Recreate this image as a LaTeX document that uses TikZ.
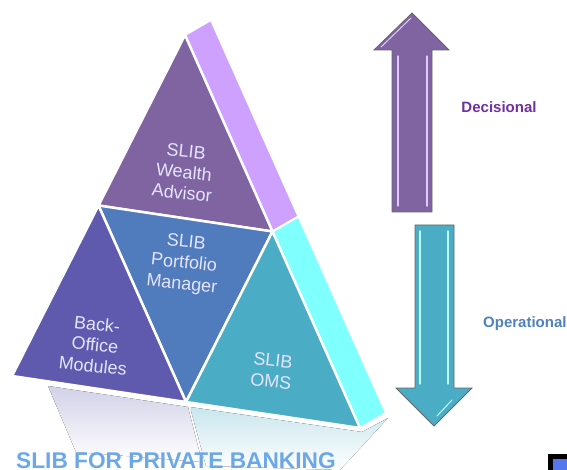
\documentclass[tikz,border=0pt]{standalone}
\usepackage{fontspec}
\setmainfont{Liberation Sans}
\usepackage{xcolor}
\usepackage{tikz}
\usetikzlibrary{calc, positioning}

\definecolor{wealthpurple}{RGB}{128,100,162}
\definecolor{portfblue}{RGB}{80,123,188}
\definecolor{backoffice}{RGB}{95,90,173}
\definecolor{omsteal}{RGB}{75,172,198}
\definecolor{lilacside}{RGB}{206,160,255}
\definecolor{cyanside}{RGB}{128,255,255}
\definecolor{decpurple}{RGB}{112,48,160}
\definecolor{opblue}{RGB}{79,129,189}
\definecolor{titleblue}{RGB}{108,168,232}
\definecolor{cornerblue}{RGB}{85,119,238}

\begin{document}
\begin{tikzpicture}[x=1pt, y=-1pt,
 facet/.style={draw=white, line width=2.5pt, line join=round},
 sideface/.style={facet, line width=2pt},
 facettext/.style={text=white!90!blue, align=center, rotate=-6,
   font=\fontsize{18}{21}\selectfont},
 bigarrow/.style={draw=black!60, line width=0.8pt, line join=miter},
 shine/.style={line width=1.4pt, line cap=round},
 sidelabel/.style={font=\fontsize{15}{18}\selectfont\bfseries, inner sep=0pt},
 ]
 \useasboundingbox (0,0) rectangle (567,470);

 % corners of the pyramid and the depth of its side
 \coordinate (apex) at (185,35);
 \coordinate (baseleft) at (12,376);
 \coordinate (baseright) at (360,428);
 \coordinate (leftmid) at ($(apex)!0.5!(baseleft)$);
 \coordinate (rightmid) at ($(apex)!0.5!(baseright)$);
 \coordinate (basemid) at ($(baseleft)!0.5!(baseright)$);
 \coordinate (depth) at (26,-15);

 % faded reflection under the base
 \fill[top color=backoffice!28, middle color=backoffice!6, bottom color=white]
  (48,386) -- (188,407) -- (202,462) -- (76,452) -- cycle;
 \fill[top color=omsteal!30, middle color=omsteal!7, bottom color=white]
  (190,407) -- (362,432) -- (388,418) -- (340,470) -- (206,466) -- cycle;

 % side of the pyramid
 \filldraw[sideface, fill=lilacside] (apex) -- ($(apex)+(depth)$)
  -- ($(rightmid)+(depth)$) -- (rightmid) -- cycle;
 \filldraw[sideface, fill=cyanside] (rightmid) -- ($(rightmid)+(depth)$)
  -- ($(baseright)+(depth)$) -- (baseright) -- cycle;

 % the four front facets
 \filldraw[facet, fill=wealthpurple] (apex) -- (rightmid) -- (leftmid) -- cycle;
 \filldraw[facet, fill=portfblue] (leftmid) -- (rightmid) -- (basemid) -- cycle;
 \filldraw[facet, fill=backoffice] (leftmid) -- (basemid) -- (baseleft) -- cycle;
 \filldraw[facet, fill=omsteal] (rightmid) -- (baseright) -- (basemid) -- cycle;

 \node[facettext] (wealth) at (184,172) {SLIB\\Wealth\\Advisor};
 \node[facettext] (portfolio) at (184,264) {SLIB\\Portfolio\\Manager};
 \node[facettext] (backoff) at (95,345) {Back-\\Office\\Modules};
 \node[facettext] (oms) at (272,371) {SLIB\\OMS};

 \node[anchor=base west, inner sep=0pt, text=titleblue,
  font=\fontsize{22.7}{26}\selectfont\bfseries] (title) at (16,468)
  {SLIB FOR PRIVATE BANKING};

 % up and down arrows
 \filldraw[bigarrow, fill=wealthpurple] (392,212) -- (392,50) -- (374,50)
  -- (412,13) -- (449,50) -- (432,50) -- (432,212) -- cycle;
 \draw[shine, lilacside!60!white] (398,56) -- (398,206);
 \draw[shine, lilacside!60!white] (427,56) -- (427,206);
 \draw[shine, line width=1pt, lilacside!60!white] (381,47) -- (411,18);

 \filldraw[bigarrow, fill=omsteal] (415,225) -- (454,225) -- (454,388)
  -- (472,388) -- (434,426) -- (396,388) -- (415,388) -- cycle;
 \draw[shine, cyanside!55!white] (420,231) -- (420,384);
 \draw[shine, cyanside!55!white] (448,231) -- (448,384);
 \draw[shine, line width=1pt, cyanside!55!white] (452,400) -- (437,416);

 \node[sidelabel, text=decpurple, anchor=base] (decisional) at (499,113) {Decisional};
 \node[sidelabel, text=opblue, anchor=base west] (operational) at (483,327) {Operational};

 % corner of the next box
 \begin{scope}
  \clip (0,0) rectangle (567,470);
  \filldraw[draw=black, line width=5pt, fill=cornerblue] (550.5,456.5) rectangle (600,500);
 \end{scope}
\end{tikzpicture}
\end{document}
